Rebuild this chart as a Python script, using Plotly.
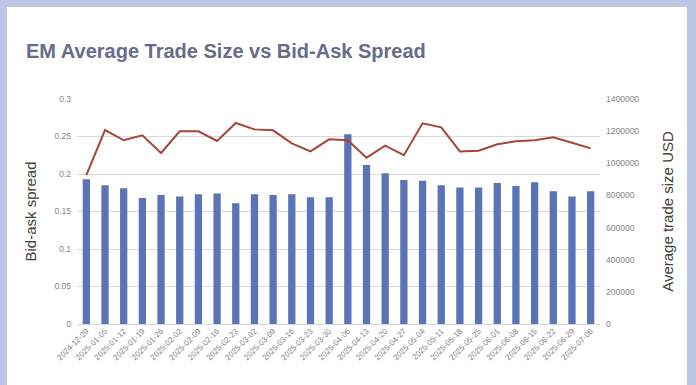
import plotly.graph_objects as go

dates = ["2024-12-29", "2025-01-05", "2025-01-12", "2025-01-19", "2025-01-26",
         "2025-02-02", "2025-02-09", "2025-02-16", "2025-02-23", "2025-03-02",
         "2025-03-09", "2025-03-16", "2025-03-23", "2025-03-30", "2025-04-06",
         "2025-04-13", "2025-04-20", "2025-04-27", "2025-05-04", "2025-05-11",
         "2025-05-18", "2025-05-25", "2025-06-01", "2025-06-08", "2025-06-15",
         "2025-06-22", "2025-06-29", "2025-07-06"]

bid_ask_spread = [0.193, 0.185, 0.181, 0.168, 0.172, 0.170, 0.173, 0.174, 0.161, 0.173,
                  0.172, 0.173, 0.169, 0.169, 0.253, 0.212, 0.201, 0.192, 0.191, 0.185,
                  0.182, 0.182, 0.188, 0.184, 0.189, 0.177, 0.170, 0.177]

avg_trade_size = [927000, 1207000, 1143000, 1174000, 1064000, 1199000, 1199000, 1139000,
                  1251000, 1211000, 1205000, 1124000, 1074000, 1149000, 1143000, 1035000,
                  1110000, 1050000, 1249000, 1224000, 1074000, 1078000, 1118000, 1137000,
                  1143000, 1162000, 1128000, 1093000]

left_ticks = [0, 0.05, 0.1, 0.15, 0.2, 0.25, 0.3]
left_labels = ["0", "0.05", "0.1", "0.15", "0.2", "0.25", "0.3"]
right_ticks = [0, 200000, 400000, 600000, 800000, 1000000, 1200000, 1400000]

W, H = 696, 385
L, R, T, B = 77, 96, 99, 61
pw, ph = W - L - R, H - T - B

def px2x(p):
    return (p - L) / pw

def px2y(p):
    return (H - B - p) / ph

fig = go.Figure()
fig.add_trace(go.Bar(x=dates, y=bid_ask_spread, name="Bid-ask spread",
                     marker=dict(color="#5B74B8", line=dict(width=0)), yaxis="y"))
fig.add_trace(go.Scatter(x=dates, y=avg_trade_size, name="Average trade size USD",
                         mode="lines", line=dict(color="#A5463A", width=2), yaxis="y2"))

tick_font = dict(family="Liberation Sans, Arial, sans-serif", size=8.5, color="#858585")
title_font = dict(family="Liberation Sans, Arial, sans-serif", size=15, color="#404040")

fig.update_layout(
    width=W, height=H,
    margin=dict(l=L, r=R, t=T, b=B, autoexpand=False),
    paper_bgcolor="#BEC6E5",
    plot_bgcolor="white",
    bargap=0.61,
    showlegend=False,
    title=dict(text="<b>EM Average Trade Size vs Bid-Ask Spread</b>",
               x=26 / W, xref="container", xanchor="left",
               y=1 - 51 / H, yref="container", yanchor="middle",
               font=dict(family="Liberation Sans Narrow, Arial Narrow, Liberation Sans, sans-serif",
                         size=20, color="#676B8C")),
    xaxis=dict(type="category", tickangle=-45, tickfont=dict(tick_font, size=8),
               showgrid=False, showline=False, ticks=""),
    yaxis=dict(range=[0, 0.3], tickvals=left_ticks, ticktext=left_labels,
               showgrid=True, gridcolor="#D9D9D9", gridwidth=1,
               zeroline=True, zerolinecolor="#D9D9D9", zerolinewidth=1,
               tickfont=tick_font, ticks="", ticklabelstandoff=5,
               title=dict(text="Bid-ask spread", font=title_font, standoff=14)),
    yaxis2=dict(range=[0, 1400000], tickvals=right_ticks, tickformat="d",
                overlaying="y", side="right", showgrid=False, zeroline=False,
                tickfont=tick_font, ticks="", ticklabelstandoff=5,
                title=dict(text="Average trade size USD", font=title_font, standoff=24)),
    shapes=[dict(type="rect", xref="paper", yref="paper", layer="below",
                 x0=px2x(7), x1=px2x(687), y0=px2y(420), y1=px2y(7),
                 fillcolor="white", line=dict(width=0))],
)

fig.write_html("out.html", config={"displayModeBar": False},
               post_script="document.body.style.margin='0';document.body.style.overflow='hidden';")
